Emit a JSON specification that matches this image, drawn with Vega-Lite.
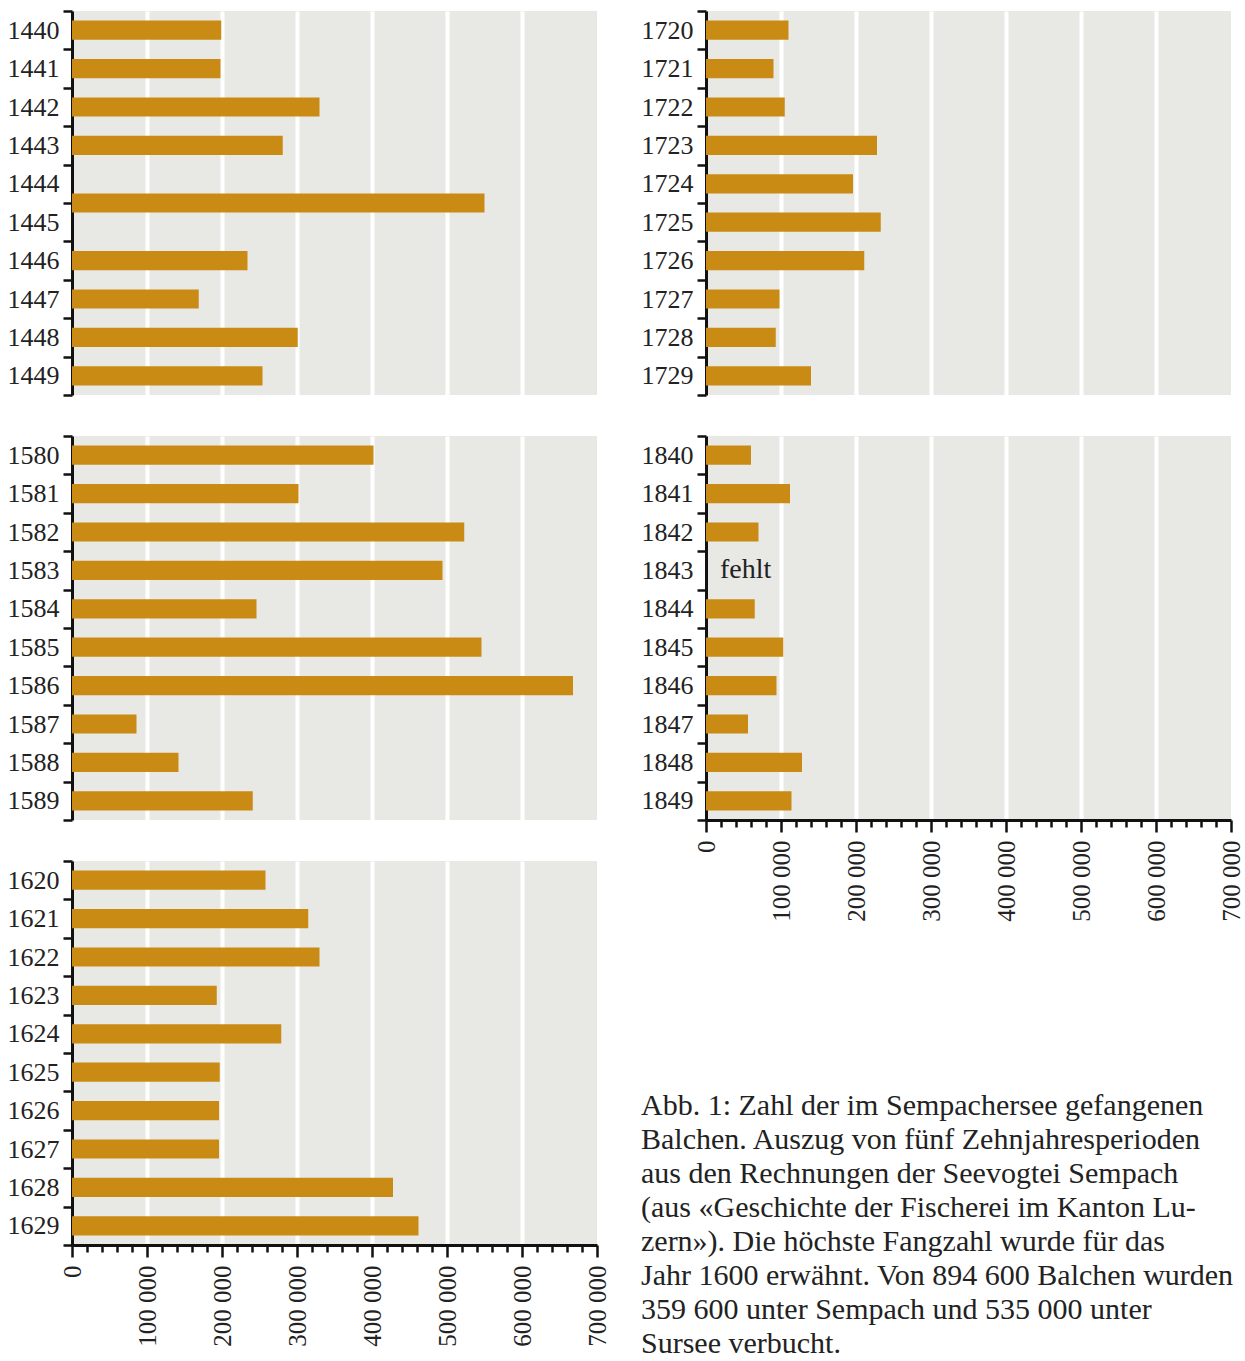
{
  "$schema": "https://vega.github.io/schema/vega-lite/v6.json",
  "padding": {"top": -2, "left": 7, "right": 0, "bottom": 0},
  "background": "white",
  "config": {
    "view": {"fill": "#e8e8e5", "stroke": null},
    "font": "Liberation Serif",
    "axisY": {"tickBand": "extent", "domainColor": "#111", "domainWidth": 3, "tickColor": "#111", "tickWidth": 2.5, "tickSize": 9, "labelFontSize": 26, "labelColor": "#222", "labelPadding": 4, "grid": false, "labelFont": "Liberation Serif"},
    "axisX": {"grid": true, "gridColor": "white", "gridWidth": 4}
  },
  "datasets": {
    "d1440": [
      {"year": 1440, "fang": 199000},
      {"year": 1441, "fang": 198000},
      {"year": 1442, "fang": 330000},
      {"year": 1443, "fang": 281000},
      {"year": 1444, "bis": 1445, "fang": 550000},
      {"year": 1446, "fang": 234000},
      {"year": 1447, "fang": 169000},
      {"year": 1448, "fang": 301000},
      {"year": 1449, "fang": 254000}
    ],
    "d1580": [
      {"year": 1580, "fang": 402000},
      {"year": 1581, "fang": 302000},
      {"year": 1582, "fang": 523000},
      {"year": 1583, "fang": 494000},
      {"year": 1584, "fang": 246000},
      {"year": 1585, "fang": 546000},
      {"year": 1586, "fang": 668000},
      {"year": 1587, "fang": 86000},
      {"year": 1588, "fang": 142000},
      {"year": 1589, "fang": 241000}
    ],
    "d1620": [
      {"year": 1620, "fang": 258000},
      {"year": 1621, "fang": 315000},
      {"year": 1622, "fang": 330000},
      {"year": 1623, "fang": 193000},
      {"year": 1624, "fang": 279000},
      {"year": 1625, "fang": 197000},
      {"year": 1626, "fang": 196000},
      {"year": 1627, "fang": 196000},
      {"year": 1628, "fang": 428000},
      {"year": 1629, "fang": 462000}
    ],
    "d1720": [
      {"year": 1720, "fang": 110000},
      {"year": 1721, "fang": 90000},
      {"year": 1722, "fang": 105000},
      {"year": 1723, "fang": 228000},
      {"year": 1724, "fang": 196000},
      {"year": 1725, "fang": 233000},
      {"year": 1726, "fang": 211000},
      {"year": 1727, "fang": 98000},
      {"year": 1728, "fang": 93000},
      {"year": 1729, "fang": 140000}
    ],
    "d1840": [
      {"year": 1840, "fang": 60000},
      {"year": 1841, "fang": 112000},
      {"year": 1842, "fang": 70000},
      {"year": 1843, "fang": null, "note": "fehlt"},
      {"year": 1844, "fang": 65000},
      {"year": 1845, "fang": 103000},
      {"year": 1846, "fang": 94000},
      {"year": 1847, "fang": 56000},
      {"year": 1848, "fang": 128000},
      {"year": 1849, "fang": 114000}
    ]
  },
  "spacing": 31,
  "hconcat": [
    {
      "spacing": 26,
      "vconcat": [
        {
          "width": 525, "height": 384,
          "data": {"name": "d1440"},
          "layer": [
            {
              "transform": [{"filter": "datum.bis == null"}],
              "mark": {"type": "bar", "color": "#c98b14", "height": {"band": 0.5}},
              "encoding": {
                "y": {"field": "year", "type": "ordinal", "title": null, "scale": {"domain": [1440,1441,1442,1443,1444,1445,1446,1447,1448,1449], "paddingInner": 0, "paddingOuter": 0}},
                "x": {"field": "fang", "type": "quantitative", "title": null, "scale": {"domain": [0, 700000], "nice": false}, "axis": {"values": [100000,200000,300000,400000,500000,600000], "labels": false, "ticks": false, "domain": false}}
              }
            },
            {
              "transform": [{"filter": "datum.bis != null"}],
              "mark": {"type": "rect", "color": "#c98b14"},
              "encoding": {
                "y": {"field": "year", "type": "ordinal", "title": null, "bandPosition": 0.75},
                "y2": {"field": "bis", "bandPosition": 0.25},
                "x": {"field": "fang", "type": "quantitative", "title": null, "axis": {"values": [100000,200000,300000,400000,500000,600000], "labels": false, "ticks": false, "domain": false}},
                "x2": {"datum": 0}
              }
            }
          ]
        },
        {
          "width": 525, "height": 384,
          "data": {"name": "d1580"},
          "mark": {"type": "bar", "color": "#c98b14", "height": {"band": 0.5}},
          "encoding": {
            "y": {"field": "year", "type": "ordinal", "title": null, "scale": {"paddingInner": 0, "paddingOuter": 0}},
            "x": {"field": "fang", "type": "quantitative", "title": null, "scale": {"domain": [0, 700000], "nice": false}, "axis": {"values": [100000,200000,300000,400000,500000,600000], "labels": false, "ticks": false, "domain": false}}
          }
        },
        {
          "width": 525, "height": 384,
          "data": {"name": "d1620"},
          "mark": {"type": "bar", "color": "#c98b14", "height": {"band": 0.5}},
          "encoding": {
            "y": {"field": "year", "type": "ordinal", "title": null, "scale": {"paddingInner": 0, "paddingOuter": 0}},
            "x": {"field": "fang", "type": "quantitative", "title": null, "scale": {"domain": [0, 700000], "nice": false},
              "axis": {
                "values": [0,20000,40000,60000,80000,100000,120000,140000,160000,180000,200000,220000,240000,260000,280000,300000,320000,340000,360000,380000,400000,420000,440000,460000,480000,500000,520000,540000,560000,580000,600000,620000,640000,660000,680000,700000],
                "domain": true, "domainColor": "#111", "domainWidth": 3,
                "ticks": true, "tickColor": "#111", "tickWidth": 2.5,
                "tickSize": {"condition": {"test": "datum.value % 100000 === 0", "value": 12}, "value": 7},
                "gridOpacity": {"condition": {"test": "datum.value % 100000 === 0 && datum.value > 0 && datum.value < 700000", "value": 1}, "value": 0},
                "labelExpr": "datum.value % 100000 !== 0 ? '' : (datum.value === 0 ? '0' : (datum.value / 1000) + ' 000')",
                "labelAngle": 270, "labelFontSize": 25, "labelPadding": 8, "labelColor": "#222", "labelFont": "Liberation Serif",
                "labelOverlap": false, "labelBound": false, "labelFlush": false
              }
            }
          }
        }
      ]
    },
    {
      "spacing": 26,
      "vconcat": [
        {
          "width": 525, "height": 384,
          "data": {"name": "d1720"},
          "mark": {"type": "bar", "color": "#c98b14", "height": {"band": 0.5}},
          "encoding": {
            "y": {"field": "year", "type": "ordinal", "title": null, "scale": {"paddingInner": 0, "paddingOuter": 0}},
            "x": {"field": "fang", "type": "quantitative", "title": null, "scale": {"domain": [0, 700000], "nice": false}, "axis": {"values": [100000,200000,300000,400000,500000,600000], "labels": false, "ticks": false, "domain": false}}
          }
        },
        {
          "width": 525, "height": 384,
          "data": {"name": "d1840"},
          "title": {
            "text": [
              "Abb. 1: Zahl der im Sempachersee gefangenen",
              "Balchen. Auszug von fünf Zehnjahresperioden",
              "aus den Rechnungen der Seevogtei Sempach",
              "(aus «Geschichte der Fischerei im Kanton Lu-",
              "zern»). Die höchste Fangzahl wurde für das",
              "Jahr 1600 erwähnt. Von 894 600 Balchen wurden",
              "359 600 unter Sempach und 535 000 unter",
              "Sursee verbucht."
            ],
            "orient": "bottom", "anchor": "start", "frame": "bounds", "offset": 170,
            "font": "Liberation Serif", "fontSize": 30, "fontWeight": "normal", "color": "#222", "lineHeight": 34
          },
          "layer": [
            {
              "transform": [{"filter": "isValid(datum.fang)"}],
              "mark": {"type": "bar", "color": "#c98b14", "height": {"band": 0.5}},
              "encoding": {
                "y": {"field": "year", "type": "ordinal", "title": null, "scale": {"domain": [1840,1841,1842,1843,1844,1845,1846,1847,1848,1849], "paddingInner": 0, "paddingOuter": 0}},
                "x": {"field": "fang", "type": "quantitative", "title": null, "scale": {"domain": [0, 700000], "nice": false},
                  "axis": {
                    "values": [0,20000,40000,60000,80000,100000,120000,140000,160000,180000,200000,220000,240000,260000,280000,300000,320000,340000,360000,380000,400000,420000,440000,460000,480000,500000,520000,540000,560000,580000,600000,620000,640000,660000,680000,700000],
                    "domain": true, "domainColor": "#111", "domainWidth": 3,
                    "ticks": true, "tickColor": "#111", "tickWidth": 2.5,
                    "tickSize": {"condition": {"test": "datum.value % 100000 === 0", "value": 12}, "value": 7},
                    "gridOpacity": {"condition": {"test": "datum.value % 100000 === 0 && datum.value > 0 && datum.value < 700000", "value": 1}, "value": 0},
                    "labelExpr": "datum.value % 100000 !== 0 ? '' : (datum.value === 0 ? '0' : (datum.value / 1000) + ' 000')",
                    "labelAngle": 270, "labelFontSize": 25, "labelPadding": 8, "labelColor": "#222", "labelFont": "Liberation Serif",
                    "labelOverlap": false, "labelBound": false, "labelFlush": false
                  }
                }
              }
            },
            {
              "transform": [{"filter": "datum.note != null"}],
              "mark": {"type": "text", "align": "left", "baseline": "middle", "dx": 14, "fontSize": 28, "font": "Liberation Serif", "color": "#222"},
              "encoding": {
                "y": {"field": "year", "type": "ordinal", "title": null},
                "x": {"datum": 0, "type": "quantitative", "title": null,
                  "axis": {
                    "values": [0,20000,40000,60000,80000,100000,120000,140000,160000,180000,200000,220000,240000,260000,280000,300000,320000,340000,360000,380000,400000,420000,440000,460000,480000,500000,520000,540000,560000,580000,600000,620000,640000,660000,680000,700000],
                    "domain": true, "domainColor": "#111", "domainWidth": 3,
                    "ticks": true, "tickColor": "#111", "tickWidth": 2.5,
                    "tickSize": {"condition": {"test": "datum.value % 100000 === 0", "value": 12}, "value": 7},
                    "gridOpacity": {"condition": {"test": "datum.value % 100000 === 0 && datum.value > 0 && datum.value < 700000", "value": 1}, "value": 0},
                    "labelExpr": "datum.value % 100000 !== 0 ? '' : (datum.value === 0 ? '0' : (datum.value / 1000) + ' 000')",
                    "labelAngle": 270, "labelFontSize": 25, "labelPadding": 8, "labelColor": "#222", "labelFont": "Liberation Serif",
                    "labelOverlap": false, "labelBound": false, "labelFlush": false
                  }
                },
                "text": {"field": "note"}
              }
            }
          ]
        }
      ]
    }
  ]
}
